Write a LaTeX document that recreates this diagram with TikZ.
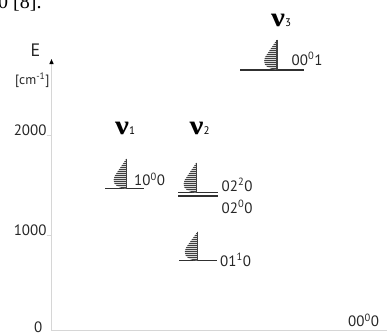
\documentclass[tikz,border=0pt]{standalone}
\usepackage{fontspec}
\setmainfont{PT Sans}
\newfontfamily\serifnu{Liberation Serif}
\usetikzlibrary{arrows.meta}
\definecolor{axisgray}{HTML}{D6D6D6}
\definecolor{hatch}{HTML}{404040}
\definecolor{levelc}{HTML}{303030}
\newcommand\drawsail[3]{%
 \begin{scope}[shift={(#1,#2)}]
   \begin{scope}
   \clip (0,-#3) -- (-9.5,-16) .. controls (-14,-11) and (-14,-5) .. (-9.5,-2.5) .. controls (-6,-0.5) and (-3,0) .. (0,0) -- cycle;
   \fill[gray!30] (-15,-31) rectangle (1,1);
   \foreach \k in {0,...,15} \draw[hatch, line width=1.2pt] (-15,-1-2*\k) -- (1,-1-2*\k);
   \end{scope}
   \draw[hatch, line width=1.4pt] (0,-#3) -- (0,0);
 \end{scope}}
\tikzset{
  lbl/.style={anchor=base west, inner sep=0pt, font=\fontsize{15}{15}\selectfont, text=black!85},
  axlbl/.style={anchor=base east, inner sep=0pt, font=\fontsize{15}{15}\selectfont, text=black!85},
  nulbl/.style={anchor=base west, inner sep=0pt},
  level/.style={draw=levelc, line width=1.3pt},
  axisline/.style={draw=axisgray, line width=1.5pt},
}
\newcommand\nusym[1]{\scalebox{1.15}[1]{\serifnu\bfseries\fontsize{27}{27}\selectfont ν}{\fontsize{11}{11}\selectfont #1}}
\begin{document}
\begin{tikzpicture}[x=1pt,y=-1pt]
\useasboundingbox (0,0) rectangle (387,332);
% cut-off fragment at top
\node[anchor=base west, inner sep=0pt, font=\serifnu\fontsize{20}{20}\selectfont] (frag) at (-2,8.5) {0 [8].};
% axes
\coordinate (o) at (51.5,330.5);
\coordinate (ytop) at (51.5,59);
\coordinate (xend) at (388,330.5);
\draw[axisline] (o) -- (xend);
\draw[axisline, -{Triangle[length=5pt,width=4pt,color=black]}] (o) -- (ytop);
\coordinate (t1a) at (46.5,235.3); \coordinate (t1b) at (51.5,235.3);
\coordinate (t2a) at (46.5,135.5); \coordinate (t2b) at (51.5,135.5);
\draw[draw=axisgray, line width=1pt] (t1a) -- (t1b);
\draw[draw=axisgray, line width=1pt] (t2a) -- (t2b);
\node[anchor=base, inner sep=0pt, font=\fontsize{18}{18}\selectfont, text=black!85] (E) at (35.5,56) {E};
\node[anchor=base west, inner sep=0pt, font=\fontsize{13.5}{13.5}\selectfont, text=black!85] (unit) at (15,84.5) {[cm\textsuperscript{-1}]};
\node[axlbl] (k2) at (46.7,135.5) {2000};
\node[axlbl] (k1) at (46.7,235.3) {1000};
\node[axlbl] (k0) at (42.5,332.5) {0};
% mode labels
\node[nulbl] (nu1) at (115,134.3) {\nusym{1}};
\node[nulbl] (nu2) at (189.5,134.3) {\nusym{2}};
\node[nulbl] (nu3) at (271,26.5) {\nusym{3}};
% levels
\coordinate (a100) at (105,188.5); \coordinate (b100) at (144,188.5);
\draw[level] (a100) -- (b100);
\coordinate (a220) at (178,192.5); \coordinate (b220) at (218,192.5);
\coordinate (a200) at (178,196); \coordinate (b200) at (218,196);
\draw[level] (a220) -- (b220);
\draw[level] (a200) -- (b200);
\coordinate (a010) at (179.3,260.7); \coordinate (b010) at (216.7,260.7);
\draw[level] (a010) -- (b010);
\coordinate (a001) at (240,70); \coordinate (b001) at (304,70);
\draw[level] (a001) -- (b001);
% sails
\drawsail{126.5}{188.5}{30}
\drawsail{196.5}{192.5}{30}
\drawsail{197.7}{260.5}{29}
\drawsail{277}{69.5}{30}
% level labels
\node[lbl] (s100) at (134,185.5) {10\textsuperscript{0}0};
\node[lbl] (s220) at (221.5,191) {02\textsuperscript{2}0};
\node[lbl] (s200) at (221.5,213) {02\textsuperscript{0}0};
\node[lbl] (s010) at (220,266) {01\textsuperscript{1}0};
\node[lbl] (s001) at (291.5,65) {00\textsuperscript{0}1};
\node[lbl] (s000) at (348,326.7) {00\textsuperscript{0}0};
\end{tikzpicture}
\end{document}
